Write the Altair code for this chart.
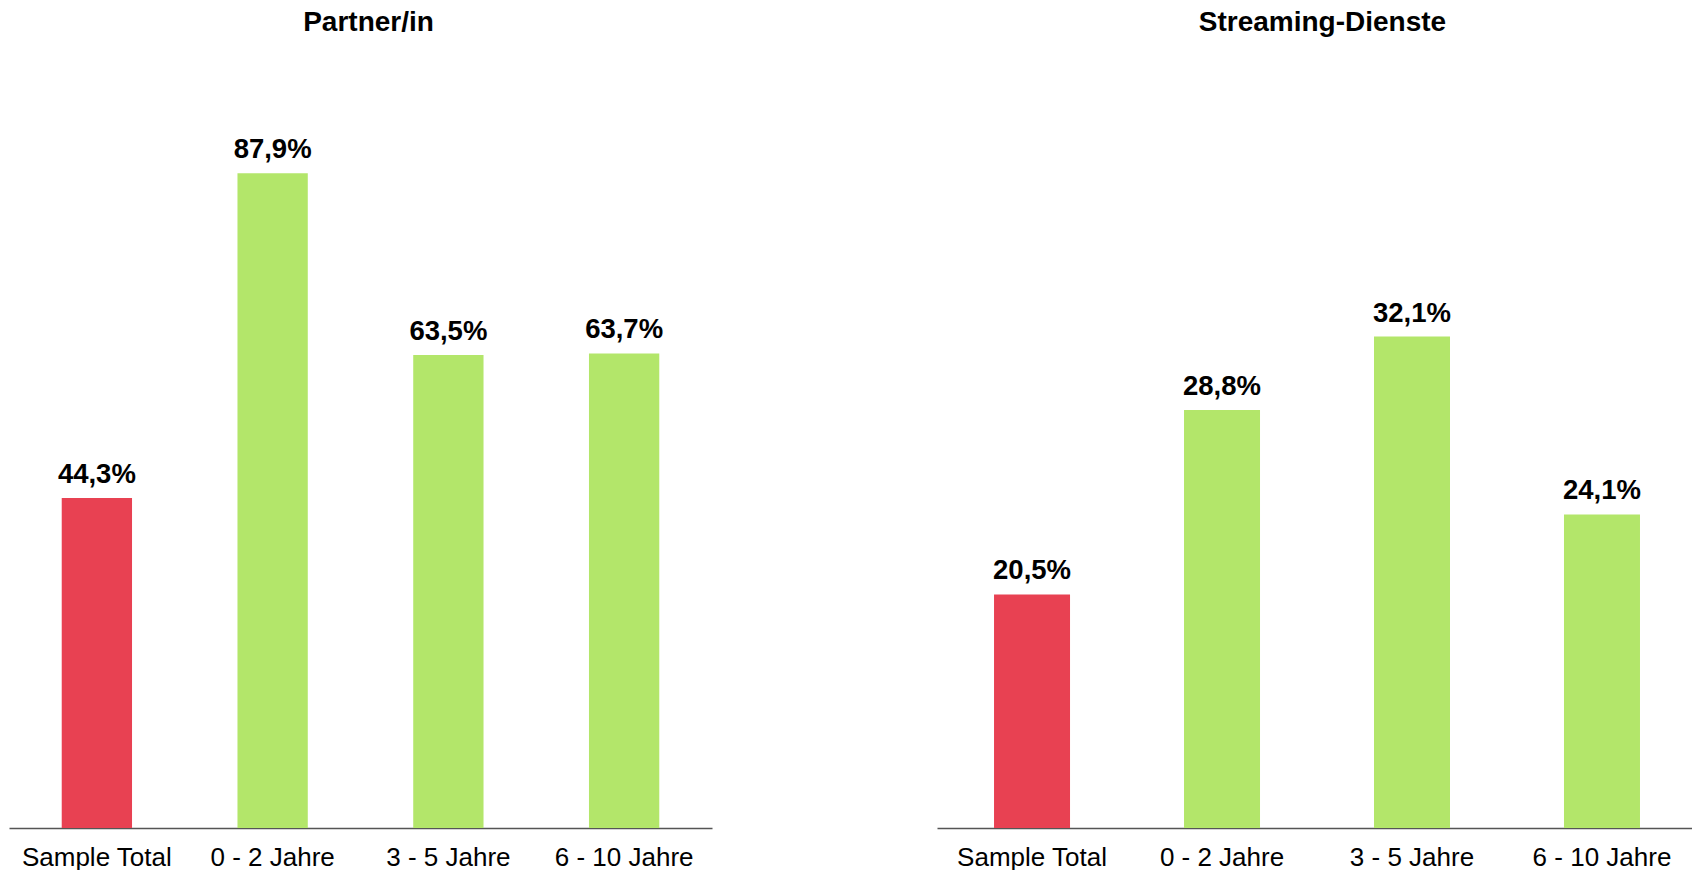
import altair as alt
import pandas as pd

categories = ["Sample Total", "0 - 2 Jahre", "3 - 5 Jahre", "6 - 10 Jahre"]
partner_values = [44.3, 87.9, 63.5, 63.7]
streaming_values = [20.5, 28.8, 32.1, 24.1]
bar_colors = ["#E84152", "#B3E66A", "#B3E66A", "#B3E66A"]

FONT = "Liberation Sans"
H = 745


def panel(title, values, domain, width, pad_outer, align):
    df = pd.DataFrame({"cat": categories, "v": values, "col": bar_colors})
    x = alt.X(
        "cat:N",
        sort=categories,
        scale=alt.Scale(paddingInner=0.6, paddingOuter=pad_outer, align=align),
        axis=alt.Axis(
            title=None,
            labelAngle=0,
            labelFontSize=26,
            labelFont=FONT,
            labelColor="#000000",
            labelPadding=16,
            ticks=False,
            domainColor="#555555",
            domainWidth=1.5,
            grid=False,
        ),
    )
    y = alt.Y("v:Q", scale=alt.Scale(domain=domain, zero=False, nice=False), axis=None)
    base = alt.Chart(df)
    bars = base.mark_bar().encode(
        x=x,
        y=y,
        y2=alt.datum(domain[0]),
        color=alt.Color("col:N", scale=None),
    )
    labels = base.transform_calculate(
        lbl="replace(format(datum.v, '.1f'), '.', ',') + '%'"
    ).mark_text(
        font=FONT, fontSize=27.5, fontWeight="bold", color="#000000",
        baseline="alphabetic", dy=-15,
    ).encode(x=x, y=y, text="lbl:N")
    return alt.layer(bars, labels).properties(
        width=width,
        height=H,
        title=alt.TitleParams(
            title, font=FONT, fontSize=28, fontWeight="bold", color="#000000",
            anchor="middle", offset=46, dx=8,
        ),
    )


left = panel("Partner/in", partner_values, [0, 100], 703, 0.3, 0.5)
right = panel("Streaming-Dienste", streaming_values, [10, 43.5], 755, 0.287, 0.523)

chart = (
    alt.hconcat(left, right, spacing=225)
    .properties(padding={"left": 1, "top": 1, "right": 0, "bottom": 0})
    .configure_view(stroke=None)
)

chart.save("out.html", embed_options={"renderer": "svg", "actions": False})
